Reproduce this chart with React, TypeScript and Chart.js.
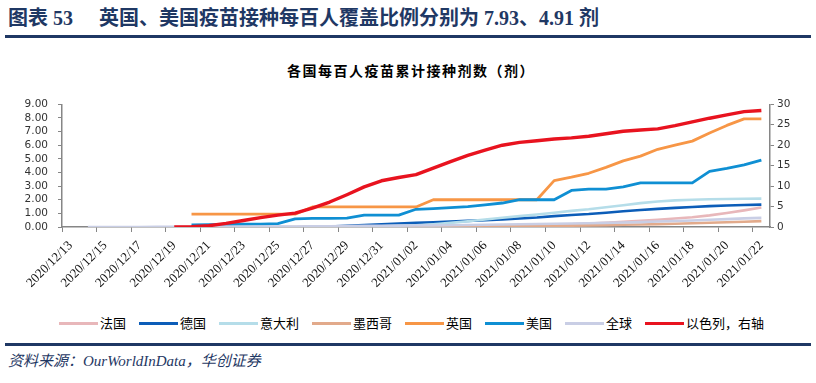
import React, { useEffect, useRef } from "react";
import { Chart, registerables } from "chart.js";

Chart.register(...registerables);

const N = null;

const dates = [
  "2020/12/13", "2020/12/14", "2020/12/15", "2020/12/16", "2020/12/17", "2020/12/18", "2020/12/19",
  "2020/12/20", "2020/12/21", "2020/12/22", "2020/12/23", "2020/12/24", "2020/12/25", "2020/12/26",
  "2020/12/27", "2020/12/28", "2020/12/29", "2020/12/30", "2020/12/31", "2021/01/01", "2021/01/02",
  "2021/01/03", "2021/01/04", "2021/01/05", "2021/01/06", "2021/01/07", "2021/01/08", "2021/01/09",
  "2021/01/10", "2021/01/11", "2021/01/12", "2021/01/13", "2021/01/14", "2021/01/15", "2021/01/16",
  "2021/01/17", "2021/01/18", "2021/01/19", "2021/01/20", "2021/01/21", "2021/01/22",
];

const france = [
  N, N, N, N, N, N, N, N, N, N, N, N, N, N,
  0.0, 0.0, 0.01, 0.01, 0.01, 0.01, 0.01, 0.02, 0.03, 0.04, 0.05, 0.07, 0.09, 0.12,
  0.15, 0.19, 0.25, 0.31, 0.38, 0.45, 0.53, 0.62, 0.72, 0.85, 1.03, 1.22, 1.43,
];

const germany = [
  N, N, N, N, N, N, N, N, N, N, N, N, N, N,
  0.0, 0.03, 0.08, 0.14, 0.2, 0.25, 0.3, 0.35, 0.4, 0.45, 0.5, 0.56, 0.63, 0.7,
  0.8, 0.88, 0.95, 1.05, 1.15, 1.25, 1.33, 1.4, 1.47, 1.53, 1.58, 1.61, 1.64,
];

const italy = [
  N, N, N, N, N, N, N, N, N, N, N, N, N, N,
  0.0, 0.01, 0.02, 0.03, 0.05, 0.08, 0.12, 0.2, 0.3, 0.42, 0.55, 0.68, 0.8, 0.92,
  1.05, 1.18, 1.3, 1.45, 1.6, 1.75, 1.87, 1.95, 2.0, 2.03, 2.05, 2.07, 2.08,
];

const mexico = [
  N, N, N, N, N, N, N, N, N, N, N,
  0.0, 0.0, 0.0, 0.01, 0.01, 0.01, 0.01, 0.02, 0.02, 0.02, 0.03, 0.03, 0.04, 0.05, 0.06,
  0.07, 0.08, 0.09, 0.1, 0.12, 0.14, 0.16, 0.18, 0.21, 0.24, 0.27, 0.31, 0.35, 0.39, 0.43,
];

const uk = [
  N, N, N, N, N, N, N,
  0.94, 0.94, 0.94, 0.94, 0.94, 0.94, 0.94,
  1.47, 1.47, 1.47, 1.47, 1.47, 1.47, 1.47,
  2.0, 2.0, 2.0, 2.0, 2.0, 2.0, 2.0,
  3.4, 3.65, 3.94, 4.37, 4.85, 5.2, 5.7, 6.0, 6.3, 6.9, 7.45, 7.93, 7.93,
];

const us = [
  N, N, N, N, N, N, N,
  0.16, 0.18, 0.19, 0.2, 0.21, 0.25, 0.6, 0.63, 0.63, 0.65, 0.87, 0.87, 0.87,
  1.3, 1.35, 1.42, 1.5, 1.62, 1.76, 2.0, 2.0, 2.0, 2.68, 2.78, 2.78, 2.95,
  3.24, 3.24, 3.24, 3.24, 4.08, 4.3, 4.55, 4.91,
];

const world = [
  N,
  0.0, 0.0, 0.0, 0.0, 0.01, 0.01, 0.01, 0.02, 0.02, 0.03,
  0.03, 0.04, 0.04, 0.05, 0.06, 0.07, 0.08, 0.09, 0.1, 0.11,
  0.12, 0.13, 0.15, 0.16, 0.18, 0.2, 0.22, 0.24, 0.26, 0.28,
  0.3, 0.33, 0.36, 0.4, 0.44, 0.48, 0.53, 0.58, 0.63, 0.67,
];

const israel = [
  N, N, N, N, N, N,
  0, 0.05, 0.3, 0.9, 1.6, 2.3, 2.9, 3.4, 4.6, 6.1, 7.9, 9.8, 11.3, 12.1, 12.8,
  14.4, 16.0, 17.5, 18.8, 20.0, 20.7, 21.1, 21.5, 21.8, 22.2, 22.8, 23.4, 23.7, 24.0,
  24.8, 25.7, 26.6, 27.4, 28.2, 28.5,
];

const seriesNames = ["法国", "德国", "意大利", "墨西哥", "英国", "美国", "全球", "以色列，右轴"];
const seriesColors = ["#E8B7BA", "#0C5DB8", "#B5DDE9", "#E2AA8B", "#F79646", "#0F8FD3", "#C9CEE5", "#E8131F"];
const seriesData = [france, germany, italy, mexico, uk, us, world, israel];
const seriesAxis = ["y", "y", "y", "y", "y", "y", "y", "y1"];
const seriesWidth = [2.6, 2.6, 2.6, 2.6, 2.8, 2.8, 2.6, 3.4];

const leftTicks = [0, 1, 2, 3, 4, 5, 6, 7, 8, 9];
const rightTicks = [0, 5, 10, 15, 20, 25, 30];

const NAVY = "#1F3864";
const AXIS = "#868686";

export default function App() {
  const ref = useRef<HTMLCanvasElement>(null);

  useEffect(() => {
    document.body.style.margin = "0";
    const chart = new Chart(ref.current as HTMLCanvasElement, {
      type: "line",
      data: {
        labels: dates,
        datasets: seriesNames.map((name, i) => ({
          label: name,
          data: seriesData[i],
          borderColor: seriesColors[i],
          backgroundColor: seriesColors[i],
          borderWidth: seriesWidth[i],
          yAxisID: seriesAxis[i],
          pointRadius: 0,
          tension: 0,
          fill: false,
          order: seriesNames.length - 1 - i,
        })),
      },
      options: {
        animation: false,
        responsive: false,
        maintainAspectRatio: false,
        layout: { padding: { top: 1, left: 0, right: 0, bottom: 0 } },
        plugins: {
          legend: { display: false },
          title: { display: false },
          tooltip: { enabled: false },
        },
        elements: { line: { borderJoinStyle: "round", borderCapStyle: "butt" } },
        scales: {
          x: {
            type: "category",
            offset: true,
            grid: {
              offset: true,
              drawOnChartArea: false,
              drawTicks: true,
              tickLength: 5,
              color: (c: any) => (typeof c.index === "number" && c.index % 2 === 0 ? AXIS : "rgba(0,0,0,0)"),
            },
            border: { color: AXIS, width: 1.5 },
            ticks: {
              autoSkip: false,
              minRotation: 45,
              maxRotation: 45,
              padding: 6,
              color: "#111",
              font: { family: "'Liberation Serif', 'Times New Roman', serif", size: 13 },
              callback: (_v: any, i: number) => (i % 2 === 0 ? dates[i] : ""),
            },
            afterFit: (s: any) => {
              s.height = 73;
            },
          },
          y: {
            position: "left",
            min: 0,
            max: 9,
            afterBuildTicks: (s: any) => {
              s.ticks = leftTicks.map((v) => ({ value: v }));
            },
            grid: { drawOnChartArea: false, drawTicks: true, tickLength: 4, color: AXIS },
            border: { color: AXIS, width: 1.5 },
            ticks: {
              autoSkip: false,
              padding: 10,
              color: "#333",
              font: { family: "'DejaVu Sans', sans-serif", size: 10.5 },
              callback: (v: any) => Number(v).toFixed(2),
            },
            afterFit: (s: any) => {
              s.width = 62;
            },
          },
          y1: {
            position: "right",
            min: 0,
            max: 30,
            afterBuildTicks: (s: any) => {
              s.ticks = rightTicks.map((v) => ({ value: v }));
            },
            grid: { drawOnChartArea: false, drawTicks: true, tickLength: 4, color: AXIS },
            border: { color: AXIS, width: 1.5 },
            ticks: {
              autoSkip: false,
              padding: 3,
              color: "#333",
              font: { family: "'DejaVu Sans', sans-serif", size: 10.5 },
              callback: (v: any) => String(v),
            },
            afterFit: (s: any) => {
              s.width = 46;
            },
          },
        },
      },
    });
    return () => chart.destroy();
  }, []);

  const cjk = "'Liberation Serif', 'Noto Sans CJK SC', serif";

  return (
    <div style={{ position: "relative", width: 816, height: 383, background: "#fff", overflow: "hidden" }}>
      <div
        style={{
          position: "absolute",
          left: 8,
          top: 6,
          fontFamily: cjk,
          fontWeight: 700,
          fontSize: 20,
          color: NAVY,
          whiteSpace: "pre",
          lineHeight: "24px",
        }}
      >
        <span>图表 53</span>
        <span style={{ marginLeft: 26 }}>英国、美国疫苗接种每百人覆盖比例分别为 7.93、4.91 剂</span>
      </div>
      <div style={{ position: "absolute", left: 5, top: 35, width: 806, height: 3, background: NAVY }} />
      <div
        style={{
          position: "absolute",
          left: 0,
          width: 816,
          top: 61,
          textAlign: "center",
          fontFamily: "'Noto Sans CJK SC', sans-serif",
          fontWeight: 700,
          fontSize: 14,
          letterSpacing: 1.5,
          lineHeight: "18px",
          color: "#000",
          paddingLeft: 6,
          boxSizing: "border-box",
        }}
      >
        各国每百人疫苗累计接种剂数（剂）
      </div>
      <canvas ref={ref} width={816} height={212} style={{ position: "absolute", left: 0, top: 88 }} />
      <div
        style={{
          position: "absolute",
          left: 59,
          top: 315,
          display: "flex",
          alignItems: "center",
          fontFamily: "'Noto Sans CJK SC', sans-serif",
          fontSize: 13,
          lineHeight: "16px",
          color: "#000",
          whiteSpace: "nowrap",
        }}
      >
        {seriesNames.map((name, i) => (
          <div key={name} style={{ display: "flex", alignItems: "center", marginRight: 13 }}>
            <div style={{ width: 39, height: 3, background: seriesColors[i], marginRight: 2 }} />
            <span>{name}</span>
          </div>
        ))}
      </div>
      <div style={{ position: "absolute", left: 5, top: 343, width: 806, height: 3, background: NAVY }} />
      <div
        style={{
          position: "absolute",
          left: 8,
          top: 351,
          fontFamily: cjk,
          fontStyle: "italic",
          fontSize: 15,
          lineHeight: "20px",
          color: NAVY,
        }}
      >
        资料来源：OurWorldInData，华创证券
      </div>
    </div>
  );
}
